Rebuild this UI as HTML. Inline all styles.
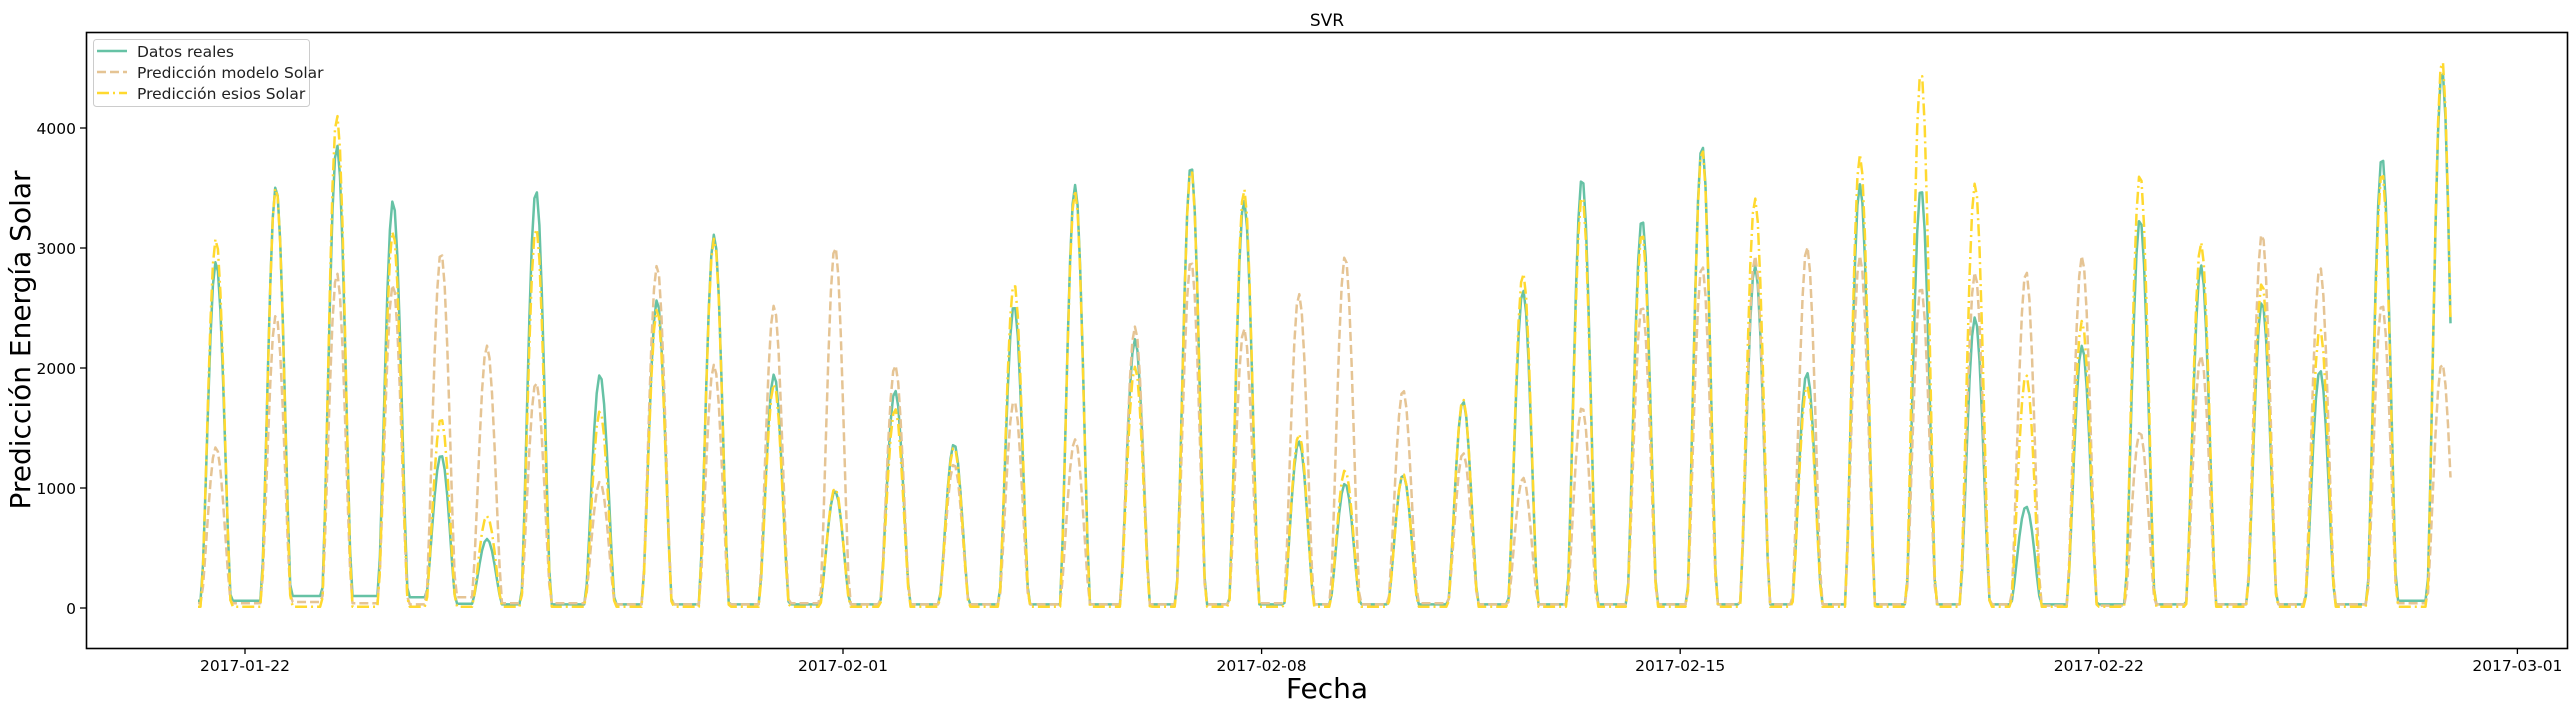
<!DOCTYPE html>
<html><head><meta charset="utf-8">
<style>
html,body{margin:0;padding:0;background:#fff;}
svg{display:block;font-family:"DejaVu Sans","Liberation Sans",sans-serif;}
</style></head>
<body>
<svg id="chart" width="2575" height="711" viewBox="0 0 2575 711" xmlns="http://www.w3.org/2000/svg">
  <text x="1327" y="26" font-size="17" text-anchor="middle" fill="#000">SVR</text>
  <g id="plot"></g>
  <rect x="86.5" y="32.5" width="2481" height="616" fill="none" stroke="#000" stroke-width="1.6"/>
  <g id="yticks"></g>
  <g id="xticks"></g>
  <text transform="translate(30,340) rotate(-90)" font-size="28" text-anchor="middle" fill="#000">Predicción Energía Solar</text>
  <text x="1327" y="698" font-size="28" text-anchor="middle" fill="#000">Fecha</text>
  <g>
    <rect x="93.5" y="39.5" width="216" height="67" rx="3" fill="#fff" fill-opacity="0.8" stroke="#ccc" stroke-width="1"/>
    <line x1="97" y1="51" x2="127" y2="51" stroke="#66c2a5" stroke-width="2.5"/>
    <text x="137" y="57" font-size="15.5" fill="#222">Datos reales</text>
    <line x1="97" y1="72" x2="127" y2="72" stroke="#e5c494" stroke-width="2.5" stroke-dasharray="9,4"/>
    <text x="137" y="78" font-size="15.5" fill="#222">Predicción modelo Solar</text>
    <line x1="97" y1="93" x2="127" y2="93" stroke="#ffd92f" stroke-width="2.5" stroke-dasharray="12,4,2,4"/>
    <text x="137" y="99" font-size="15.5" fill="#222">Predicción esios Solar</text>
  </g>
</svg>
<script>
// Peak times in days relative to 2017-01-22 00:00
const peakDay = [-0.485,0.518,1.538,2.475,3.278,4.047,4.866,5.936,6.890,7.843,8.846,9.866,10.870,11.856,12.860,13.880,14.883,15.819,16.706,17.625,18.395,19.365,20.368,21.371,22.358,23.361,24.365,25.251,26.120,27.007,28.027,28.930,29.783,30.719,31.689,32.709,33.729,34.699,35.736,36.739];
const realPeak = [2888,3516,3860,3398,1277,575,3484,1947,2569,3111,1947,974,1813,1367,2527,3525,2240,3694,3398,1389,1038,1111,1724,2649,3589,3245,3860,2856,1963,3532,3503,2425,847,2186,3248,2856,2553,1985,3765,4482];
const modelPeak = [1341,2441,2792,2700,2967,2186,1883,1054,2856,2027,2521,3015,2027,1200,1730,1405,2345,2900,2330,2617,2935,1819,1293,1086,1676,2521,2856,2935,3015,2935,2680,2800,2808,2935,1468,2106,3127,2846,2537,2043];
const esiosPeak = [3079,3510,4109,3143,1580,767,3175,1644,2489,3079,1867,1000,1660,1341,2712,3478,2010,3669,3494,1450,1150,1118,1740,2792,3446,3127,3828,3414,1851,3781,4482,3541,1947,2393,3621,3047,2712,2330,3637,4578];
const realNight = [60,100,100,90,35,30,30,30,30,30,30,30,30,30,30,30,30,30,30,30,30,30,30,30,30,30,30,30,30,30,30,30,30,30,30,30,30,30,60,60];
const modelNight = [40,50,40,30,90,40,40,30,30,30,40,30,30,30,30,30,30,30,40,30,30,40,30,30,30,30,30,30,30,30,30,30,20,20,30,30,30,30,40,40];
const esiosNight = [10,10,10,10,10,10,10,10,10,10,10,10,10,10,10,10,10,10,10,10,10,10,10,10,10,10,10,10,10,10,10,10,10,10,10,10,10,10,10,10];
const startDay = -0.786, endDay = 36.92;
const yTicks = [0,1000,2000,3000,4000];
const xTickLabels = ["2017-01-22","2017-02-01","2017-02-08","2017-02-15","2017-02-22","2017-03-01"];
const xTickDays = [0,10,17,24,31,38];

const NS = "http://www.w3.org/2000/svg";
const X = d => 245 + d * 59.8;
const Y = v => 608 - v * 0.12;

function seriesValue(t, peaks, nights) {
  let best = 0, bd = 1e9;
  for (let i = 0; i < peakDay.length; i++) {
    const d = Math.abs(t - peakDay[i]);
    if (d < bd) { bd = d; best = i; }
  }
  const hw = 0.25;
  const night = t < peakDay[best] ? (best > 0 ? nights[best - 1] : nights[0]) : nights[best];
  if (bd >= hw) return night;
  const s = Math.cos(Math.PI / 2 * bd / hw);
  return night + (peaks[best] - night) * Math.pow(s, 1.4);
}

function buildPath(peaks, nights) {
  let d = "";
  for (let t = startDay; t <= endDay + 1e-9; t += 1 / 24) {
    const v = seriesValue(t, peaks, nights);
    d += (d ? "L" : "M") + X(t).toFixed(1) + "," + Y(v).toFixed(1);
  }
  return d;
}

const plot = document.getElementById("plot");
function addLine(peaks, nights, color, dash, name) {
  const p = document.createElementNS(NS, "path");
  p.setAttribute("d", buildPath(peaks, nights));
  p.setAttribute("fill", "none");
  p.setAttribute("stroke", color);
  p.setAttribute("stroke-width", "2.5");
  p.setAttribute("stroke-linejoin", "round");
  if (dash) p.setAttribute("stroke-dasharray", dash);
  
  
  plot.appendChild(p);
}
addLine(realPeak, realNight, "#66c2a5", null, "series-datos-reales");
addLine(modelPeak, modelNight, "#e5c494", "9,4", "series-prediccion-modelo");
addLine(esiosPeak, esiosNight, "#ffd92f", "12,4,2,4", "series-prediccion-esios");

const yg = document.getElementById("yticks");
yTicks.forEach(v => {
  const l = document.createElementNS(NS, "line");
  l.setAttribute("x1", 80); l.setAttribute("x2", 86);
  l.setAttribute("y1", Y(v)); l.setAttribute("y2", Y(v));
  l.setAttribute("stroke", "#000"); l.setAttribute("stroke-width", "1.3");
  
  
  yg.appendChild(l);
  const t = document.createElementNS(NS, "text");
  t.setAttribute("x", 76); t.setAttribute("y", Y(v) + 6);
  t.setAttribute("font-size", "15.5"); t.setAttribute("text-anchor", "end");
  t.textContent = v;
  
  
  yg.appendChild(t);
});

const xg = document.getElementById("xticks");
xTickDays.forEach((d, i) => {
  const l = document.createElementNS(NS, "line");
  l.setAttribute("x1", X(d)); l.setAttribute("x2", X(d));
  l.setAttribute("y1", 648); l.setAttribute("y2", 654);
  l.setAttribute("stroke", "#000"); l.setAttribute("stroke-width", "1.3");
  
  
  xg.appendChild(l);
  const t = document.createElementNS(NS, "text");
  t.setAttribute("x", X(d)); t.setAttribute("y", 671);
  t.setAttribute("font-size", "15.5"); t.setAttribute("text-anchor", "middle");
  t.textContent = xTickLabels[i];
  
  
  xg.appendChild(t);
});
</script>
</body></html>
